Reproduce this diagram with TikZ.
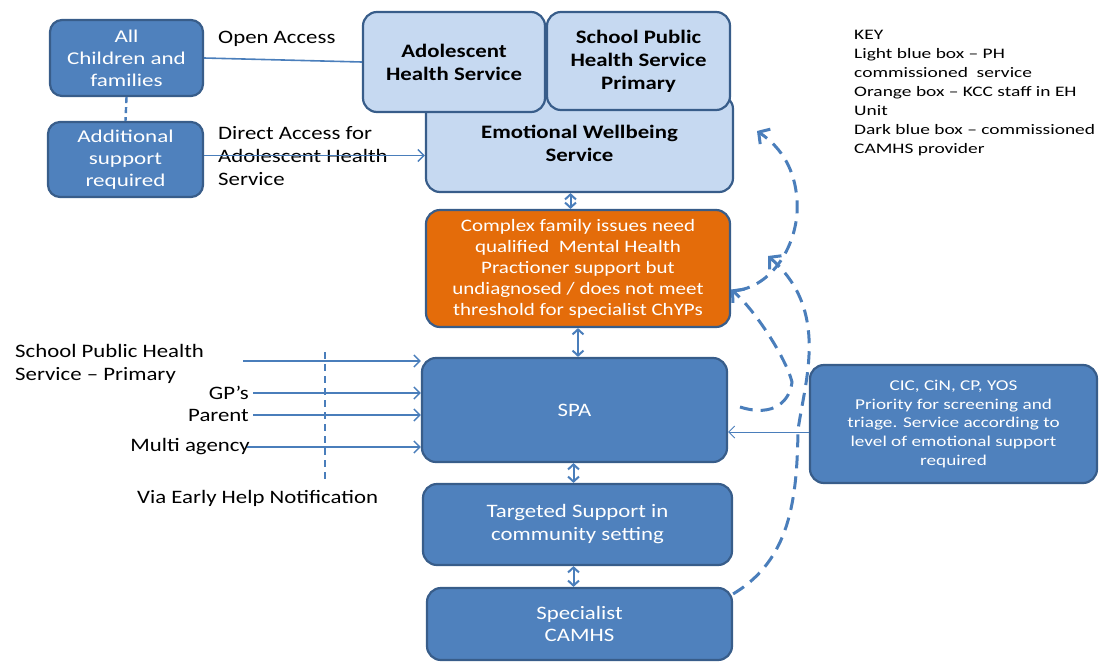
\documentclass[tikz,border=0pt]{standalone}
\usepackage{fontspec}
\setmainfont{Carlito}[FakeStretch=1.2]
\newfontfamily\widea{Carlito}[FakeStretch=1.28]
\newfontfamily\wideb{Carlito}[FakeStretch=1.34]
\usetikzlibrary{arrows.meta}
\definecolor{dkblue}{HTML}{4F81BD}
\definecolor{edge}{HTML}{385D8A}
\definecolor{ltblue}{HTML}{C6D9F1}
\definecolor{orng}{HTML}{E46C0A}
\definecolor{wire}{HTML}{4A7EBB}
\tikzset{
  box/.style={draw=edge, line width=2.2pt, rounded corners=14pt, align=center, inner sep=2pt},
  darkbox/.style={box, fill=dkblue, text=white},
  lightbox/.style={box, fill=ltblue, text=black, font=\fontsize{19}{23}\selectfont\bfseries},
  orangebox/.style={box, fill=orng, text=white},
  lbl/.style={inner sep=0pt, font=\fontsize{19}{23}\selectfont, align=left},
  barb/.tip={Straight Barb[length=6pt,width=12pt,line width=1.5pt]},
  flow/.style={draw=wire, line width=1.6pt, -barb},
  thinflow/.style={draw=wire, line width=0.9pt, -{Straight Barb[length=6pt,width=12pt,line width=0.9pt]}},
  twoway/.style={draw=wire, line width=2pt, {Straight Barb[length=5pt,width=11pt,line width=2pt]}-{Straight Barb[length=5pt,width=11pt,line width=2pt]}},
  loopback/.style={draw=wire, line width=3pt, dash pattern=on 13pt off 8pt,
    -{Straight Barb[length=8pt,width=18pt,line width=3pt]}},
  tie/.style={draw=wire, line width=2.4pt, dash pattern=on 6pt off 4pt},
  fence/.style={draw=wire, line width=1.8pt, dash pattern=on 7pt off 5pt}
}
\begin{document}
\begin{tikzpicture}[x=1pt,y=-1pt]
\useasboundingbox (0,0) rectangle (1101,662);

% entry points
\node[darkbox, minimum width=153pt, minimum height=76pt, rounded corners=12pt,
      font=\widea\fontsize{18}{22}\selectfont] (allch) at (126.5,58) {All\\Children and\\families};
\node[darkbox, minimum width=155pt, minimum height=75pt, rounded corners=12pt,
      font=\widea\fontsize{18}{22}\selectfont] (addl) at (125.5,159.5) {Additional\\support\\required};

% public health services
\node[lightbox, minimum width=307pt, minimum height=97pt] (ews) at (579.5,143.5) {Emotional Wellbeing\\Service};
\node[lightbox, minimum width=182pt, minimum height=100pt] (ahs) at (454,62) {Adolescent\\Health Service};
\node[lightbox, minimum width=183pt, minimum height=98pt] (sphs) at (638.5,61) {School Public\\Health Service\\Primary};

% early help and CAMHS pathway
\node[orangebox, minimum width=304pt, minimum height=117pt,
      font=\fontsize{17.5}{21}\selectfont] (orange) at (578,268.5)
  {Complex family issues need\\qualified\ \ Mental Health\\Practioner support but\\undiagnosed / does not meet\\threshold for specialist ChYPs};
\node[darkbox, minimum width=305pt, minimum height=104pt,
      font=\fontsize{19}{23}\selectfont] (spa) at (574.5,410) {SPA};
\node[darkbox, minimum width=309pt, minimum height=81pt,
      font=\fontsize{19}{23}\selectfont] (tgt) at (577.5,524.5) {Targeted Support in\\community setting};
\node[darkbox, minimum width=305pt, minimum height=72pt,
      font=\fontsize{19}{22}\selectfont] (cam) at (579.5,624) {Specialist\\CAMHS};
\node[darkbox, minimum width=287pt, minimum height=118pt,
      font=\widea\fontsize{15}{18.7}\selectfont] (cic) at (953.5,424)
  {CIC, CiN, CP, YOS\\Priority for screening and\\triage. Service according to\\level of emotional support\\required};

% labels
\node[lbl, anchor=base west] (open) at (218,43) {Open Access};
\node[lbl, anchor=north west] (direct) at (218,126) {Direct Access for\\Adolescent Health\\Service};
\node[lbl, anchor=north west] (sph) at (15,344) {School Public Health\\Service – Primary};
\node[lbl, anchor=base east] (gp) at (249,399) {GP’s};
\node[lbl, anchor=base east] (par) at (249,421) {Parent};
\node[lbl, anchor=base east] (multi) at (250,451) {Multi agency};
\node[lbl, anchor=base west] (ehn) at (137,503) {Via Early Help Notification};
\node[inner sep=0pt, anchor=north west, align=left, font=\wideb\fontsize{14.5}{19}\selectfont] (key) at (854,30)
  {KEY\\Light blue box – PH\\commissioned\ \ service\\Orange box – KCC staff in EH\\Unit\\Dark blue box – commissioned\\CAMHS provider};

% access routes at the top
\draw[tie] (allch.south) -- (addl.north);
\draw[draw=wire, line width=1.6pt] (allch.east) -- (ahs.west);
\draw[flow] ([yshift=4pt]addl.east) -- ([yshift=4pt]addl.east -| ews.west);

% referral routes into SPA
\coordinate (sphstart) at (243,361);
\draw[flow] (sphstart) -- (sphstart -| spa.west);
\draw[flow] ([xshift=4pt,yshift=6pt]gp.base east) -- ([yshift=6pt]gp.base east -| spa.west);
\draw[flow] ([xshift=4pt,yshift=6pt]par.base east) -- ([yshift=6pt]par.base east -| spa.west);
\draw[flow] ([xshift=-3pt,yshift=4pt]multi.base east) -- ([yshift=4pt]multi.base east -| spa.west);
\coordinate (fencetop) at (325,352);
\coordinate (fencebot) at (325,483);
\draw[fence] (fencetop) -- (fencebot);
\draw[thinflow] ([yshift=-8pt]cic.west) -- ([yshift=-8pt]cic.west -| spa.east);

% two-way links down the pathway
\draw[twoway] ([xshift=-9pt]ews.south) -- ([xshift=-9pt]ews.south |- orange.north);
\draw[twoway] (orange.south) -- (orange.south |- spa.north);
\draw[twoway] ([xshift=-1pt]spa.south) -- ([xshift=-1pt]spa.south |- tgt.north);
\draw[twoway] ([xshift=-4pt]tgt.south) -- ([xshift=-4pt]tgt.south |- cam.north);

% dashed step-up routes
\coordinate (bstart) at (740,407);
\coordinate (cend) at (757,131);
\coordinate (dend) at (768,256);
\draw[loopback] (bstart) .. controls (775,418) and (790,400) .. (792,382)
  .. controls (786,358) and (755,310) .. ([yshift=-21pt]orange.east);
\draw[loopback] ([xshift=6pt,yshift=-22pt]orange.east) .. controls (775,285) and (800,240) .. (797,200)
  .. controls (795,170) and (782,148) .. (cend);
\draw[loopback] ([yshift=-7pt]cam.north east) .. controls (790,560) and (797,500) .. (798,430)
  .. controls (805,380) and (830,310) .. (dend);
\end{tikzpicture}
\end{document}
